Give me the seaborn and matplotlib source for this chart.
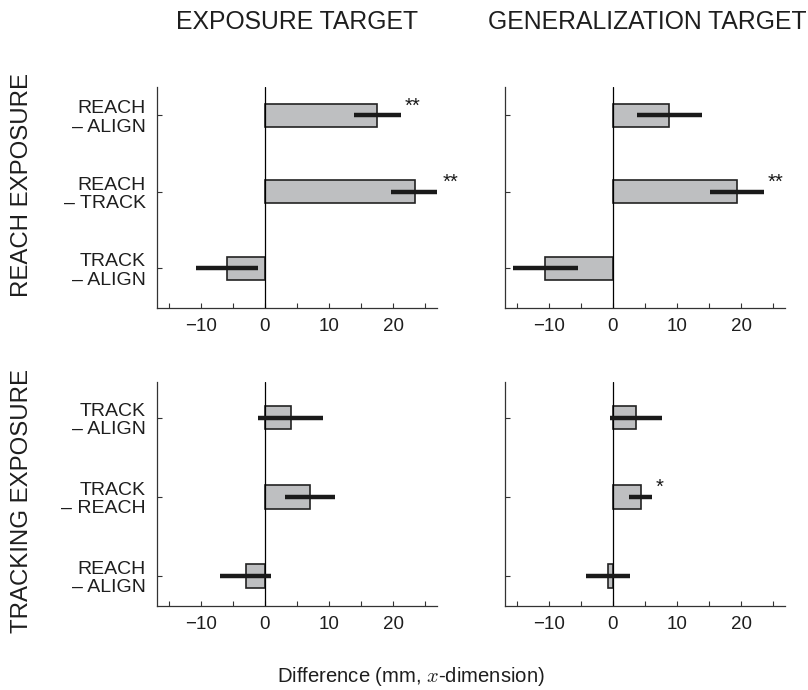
import numpy as np
import pandas as pd
import matplotlib
matplotlib.use("Agg")
import matplotlib.pyplot as plt
import seaborn as sns

# ---- data ----
reach_rows = ["REACH\n– ALIGN", "REACH\n– TRACK", "TRACK\n– ALIGN"]
track_rows = ["TRACK\n– ALIGN", "TRACK\n– REACH", "REACH\n– ALIGN"]

reach_exposure_mean = [17.5, 23.4, -5.9]
reach_exposure_err = [3.7, 3.7, 4.9]
reach_exposure_sig = ["**", "**", ""]

reach_general_mean = [8.8, 19.3, -10.5]
reach_general_err = [5.0, 4.2, 5.1]
reach_general_sig = ["", "**", ""]

track_exposure_mean = [4.0, 7.0, -3.0]
track_exposure_err = [5.1, 3.9, 3.95]
track_exposure_sig = ["", "", ""]

track_general_mean = [3.6, 4.3, -0.75]
track_general_err = [4.1, 1.75, 3.45]
track_general_sig = ["", "*", ""]

col_titles = ["EXPOSURE TARGET", "GENERALIZATION TARGET"]
row_titles = ["REACH EXPOSURE", "TRACKING EXPOSURE"]
x_ticks = [-15, -10, -5, 0, 5, 10, 15, 20, 25]
x_labels = ["", "−10", "", "0", "", "10", "", "20", ""]
x_label = "Difference (mm, $x$-dimension)"

# ---- style ----
sns.set_theme(style="white")
plt.rcParams["font.family"] = ["Liberation Sans", "DejaVu Sans"]
plt.rcParams["mathtext.fontset"] = "cm"

fig = plt.figure(figsize=(8.08, 6.9), dpi=100)
W, H = 808, 690

def axes_px(x0, y0, x1, y1):
    return fig.add_axes([x0 / W, 1 - y1 / H, (x1 - x0) / W, (y1 - y0) / H])

panels = [
    (axes_px(157, 87, 437, 308), reach_rows, reach_exposure_mean, reach_exposure_err, reach_exposure_sig, True, (2.52, -0.37)),
    (axes_px(505, 87, 785, 308), reach_rows, reach_general_mean, reach_general_err, reach_general_sig, False, (2.52, -0.37)),
    (axes_px(157, 382, 437, 606), track_rows, track_exposure_mean, track_exposure_err, track_exposure_sig, True, (2.38, -0.45)),
    (axes_px(505, 382, 785, 606), track_rows, track_general_mean, track_general_err, track_general_sig, False, (2.38, -0.45)),
]

bar_color = "#bebfc1"
edge_color = "#222222"
dark = "#1a1a1a"
text_color = "#1e1e1e"

for ax, rows, mean, err, sig, show_labels, ylim in panels:
    df = pd.DataFrame({"row": rows, "diff": mean})
    sns.barplot(data=df, x="diff", y="row", orient="h", color=bar_color,
                saturation=1, edgecolor=edge_color, linewidth=1.2,
                width=0.3, errorbar=None, ax=ax)
    pos = np.arange(len(rows))
    ax.errorbar(mean, pos, xerr=err, fmt="none", ecolor=dark,
                elinewidth=3.2, capsize=0, zorder=5)
    ax.axvline(0, color="black", linewidth=0.9, zorder=4)
    for m, e, s, p in zip(mean, err, sig, pos):
        if s:
            ax.text(m + e + 0.6, p - 0.12, s, ha="left", va="center",
                    fontsize=14.5, color=dark)
    ax.set_xlim(-16.8, 26.8)
    ax.set_ylim(*ylim)
    ax.set_xticks(x_ticks)
    ax.set_xticklabels(x_labels)
    ax.set_xlabel("")
    ax.set_ylabel("")
    for side in ["top", "right"]:
        ax.spines[side].set_visible(False)
    for side in ["left", "bottom"]:
        ax.spines[side].set_color("#333333")
        ax.spines[side].set_linewidth(0.9)
    ax.tick_params(axis="x", direction="in", length=3.5, width=0.8,
                   colors="#333333", labelcolor=text_color, labelsize=13.5, pad=7,
                   bottom=True)
    ax.tick_params(axis="y", direction="in", length=3.5, width=0.8,
                   colors="#333333", labelcolor=text_color, labelsize=14, pad=8,
                   left=True, labelleft=show_labels)
    if show_labels:
        for t in ax.get_yticklabels():
            t.set_multialignment("right")
            t.set_linespacing(1.1)

fig.text(297 / W, 1 - 22 / H, col_titles[0], ha="center", va="center",
         fontsize=17.8, color=text_color)
fig.text(647 / W, 1 - 22 / H, col_titles[1], ha="center", va="center",
         fontsize=17.8, color=text_color)
fig.text(22 / W, 1 - 185 / H, row_titles[0], ha="center", va="center",
         rotation=90, fontsize=17.3, color=text_color)
fig.text(22 / W, 1 - 501 / H, row_titles[1], ha="center", va="center",
         rotation=90, fontsize=17.3, color=text_color)
fig.text(411 / W, 1 - 677 / H, x_label, ha="center", va="center",
         fontsize=14.6, color=text_color)

fig.savefig("out.png", dpi=100)
